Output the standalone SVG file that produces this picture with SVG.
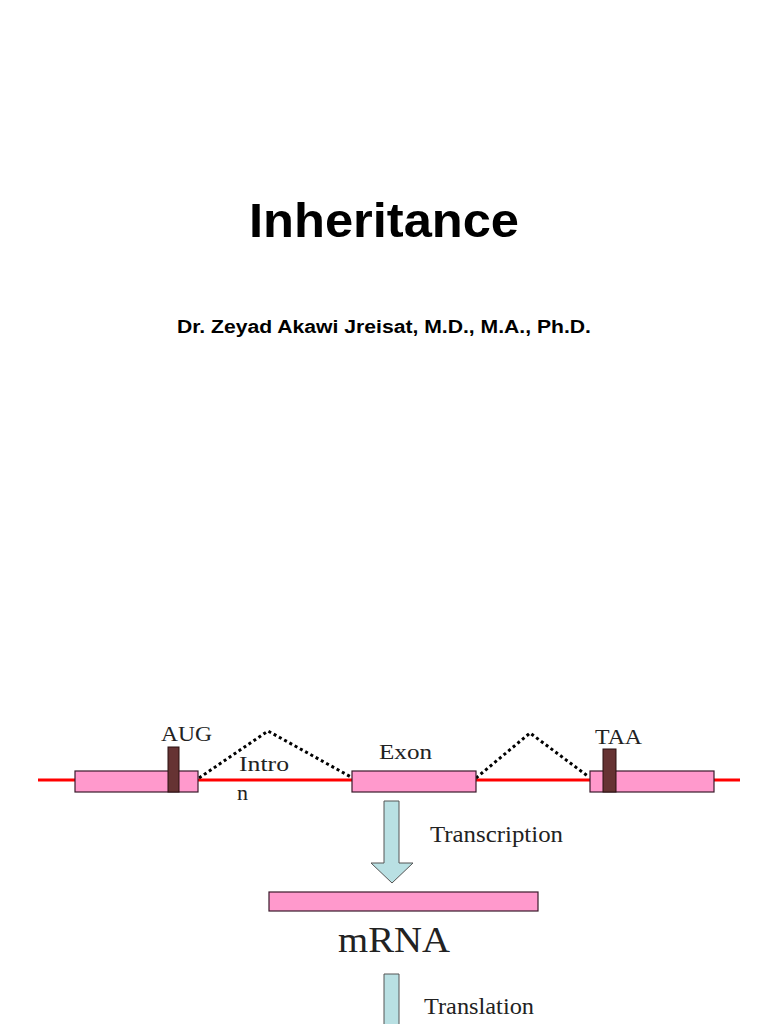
<svg xmlns="http://www.w3.org/2000/svg" width="768" height="1024" viewBox="0 0 768 1024">
<style>
.title{font-family:"Liberation Sans",Arial,sans-serif;font-weight:bold;fill:#000}
.lbl{font-family:"Liberation Serif","Times New Roman",serif;fill:#222}
.exon{fill:#ff99cc;stroke:#3a1a2a;stroke-width:1.2}
.codon{fill:#663333;stroke:#2a1010;stroke-width:1}
.dots{fill:none;stroke:#000;stroke-width:3;stroke-dasharray:3 3}
.arrow{fill:#b9e0e3;stroke:#555;stroke-width:1}
</style>
<rect width="768" height="1024" fill="#fff"/>
<text class="title" x="384" y="237" font-size="48" text-anchor="middle" textLength="270" lengthAdjust="spacingAndGlyphs">Inheritance</text>
<text class="title" x="384" y="333" font-size="18" text-anchor="middle" textLength="414" lengthAdjust="spacingAndGlyphs">Dr. Zeyad Akawi Jreisat, M.D., M.A., Ph.D.</text>
<g id="connectors">
<line x1="38" y1="780" x2="740" y2="780" stroke="#ff0000" stroke-width="3"/>
<polyline class="dots" points="199,778 268,731 351,777"/>
<polyline class="dots" points="476,778 530,733 589,777"/>
</g>
<g id="exon1"><rect class="exon" x="75" y="771" width="123" height="21"/></g>
<g id="aug"><rect class="codon" x="168" y="747" width="11" height="45"/><text class="lbl" x="161" y="741" font-size="22" textLength="51" lengthAdjust="spacingAndGlyphs">AUG</text></g>
<g id="exon2"><rect class="exon" x="352" y="771" width="124" height="21"/><text class="lbl" x="379" y="759" font-size="22" textLength="53" lengthAdjust="spacingAndGlyphs">Exon</text></g>
<g id="exon3"><rect class="exon" x="590" y="771" width="124" height="21"/></g>
<g id="taa"><rect class="codon" x="603" y="749" width="13" height="43"/><text class="lbl" x="595" y="744" font-size="22" textLength="47" lengthAdjust="spacingAndGlyphs">TAA</text></g>
<g id="intron"><text class="lbl" x="239" y="771" font-size="22" textLength="50" lengthAdjust="spacingAndGlyphs">Intro</text><text class="lbl" x="237" y="800" font-size="22">n</text></g>
<g id="transcription">
<path class="arrow" d="M384,801 H399 V863 H413 L392,883 L371,863 H384 Z"/>
<text class="lbl" x="430" y="842" font-size="23" textLength="133" lengthAdjust="spacingAndGlyphs">Transcription</text>
</g>
<g id="mrna">
<rect class="exon" x="269" y="892" width="269" height="19"/>
<text class="lbl" x="338" y="952" font-size="35" textLength="112" lengthAdjust="spacingAndGlyphs">mRNA</text>
</g>
<g id="translation">
<path class="arrow" d="M384,974 H399 V1030 H384 Z"/>
<text class="lbl" x="424" y="1014" font-size="23" textLength="110" lengthAdjust="spacingAndGlyphs">Translation</text>
</g>
</svg>
